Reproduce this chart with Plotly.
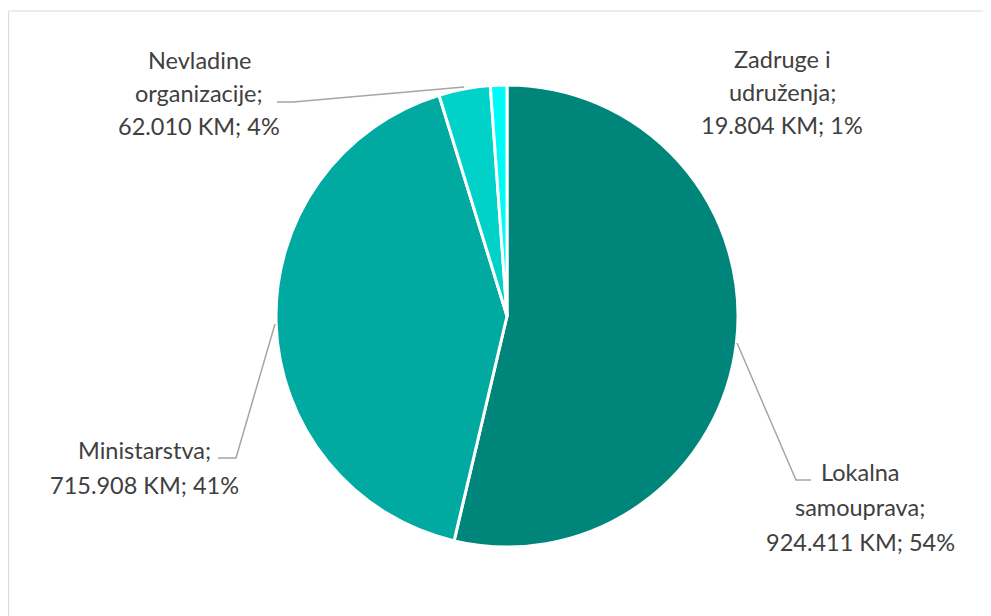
import plotly.graph_objects as go

# ---- data ----
categories = ["Lokalna samouprava", "Ministarstva", "Nevladine organizacije", "Zadruge i udruženja"]
values = [924411, 715908, 62010, 19804]
pct_labels = ["54%", "41%", "4%", "1%"]
name_lines = [["Lokalna", "samouprava;"], ["Ministarstva;"], ["Nevladine", "organizacije;"], ["Zadruge i", "udruženja;"]]
colors = ["#00857A", "#00AAA0", "#00D2CA", "#00FAF5"]

W, H = 991, 616
OFF = 8  # page body margin

def px(x, y):
    return (x - OFF) / W, 1 - (y - OFF) / H

# pie placement (pixels)
cx, cy, r = 507, 316, 231
dx0, dy1 = px(cx - r, cy - r)
dx1, dy0 = px(cx + r, cy + r)

fig = go.Figure(go.Pie(
    labels=categories,
    values=values,
    sort=False,
    direction="clockwise",
    rotation=0,
    marker=dict(colors=colors, line=dict(color="white", width=3)),
    textinfo="none",
    hoverinfo="label+value+percent",
    showlegend=False,
    domain=dict(x=[dx0, dx1], y=[dy0, dy1]),
))

def fmt(v):
    return f"{v:,}".replace(",", ".") + " KM; "

# label block layout: (center x, first line y, line spacing)
label_pos = [(860, 472, 35), (144, 450, 35), (199, 60, 33), (782, 59, 33)]

annotations = []
for i, (xc, y0, dy) in enumerate(label_pos):
    lines = name_lines[i] + [fmt(values[i]) + pct_labels[i]]
    for k, t in enumerate(lines):
        x, y = px(xc, y0 + k * dy)
        annotations.append(dict(
            x=x, y=y, xref="paper", yref="paper", text=t, showarrow=False,
            xanchor="center", yanchor="middle",
            font=dict(family="Lato, Open Sans, sans-serif", size=23.5, color="#404040"),
        ))

# leader lines (pixels)
leaders = [
    [(811, 480), (796, 480), (737, 343)],
    [(218, 458), (236, 458), (275, 324)],
    [(277, 102), (293, 102), (464, 87)],
]
shapes = []
for pts in leaders:
    path = ""
    for j, (x, y) in enumerate(pts):
        X, Y = px(x, y)
        path += ("M" if j == 0 else "L") + f"{X},{Y} "
    shapes.append(dict(type="path", xref="paper", yref="paper", path=path.strip(),
                       line=dict(color="#A6A6A6", width=1.5)))

# chart area border
_, by1 = px(5, 11)
shapes.append(dict(type="rect", xref="paper", yref="paper", x0=0.0006, y0=-0.05, x1=1.05, y1=by1,
                   line=dict(color="#D9D9D9", width=1), fillcolor="rgba(0,0,0,0)", layer="below"))

fig.update_layout(
    width=W, height=H,
    margin=dict(l=0, r=0, t=0, b=0),
    paper_bgcolor="white", plot_bgcolor="white",
    annotations=annotations, shapes=shapes,
)

fig.write_html("out.html")
